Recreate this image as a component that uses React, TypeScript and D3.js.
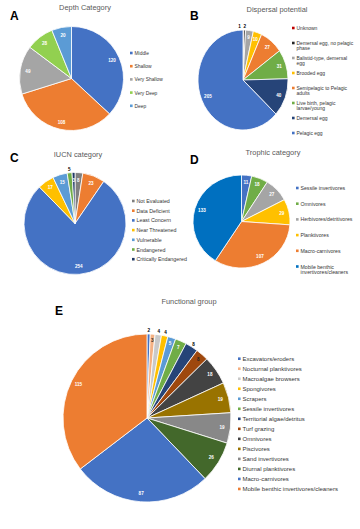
import React from 'react';
import * as d3 from 'd3';

// ---------- DATA ----------
const depthCategories = ['Middle', 'Shallow', 'Very Shallow', 'Very Deep', 'Deep'];
const depthValues = [120, 108, 49, 28, 20];

const dispersalCategories = [
  'Unknown',
  'Demersal egg, no pelagic phase',
  'Balistid-type, demersal egg',
  'Brooded egg',
  'Semipelagic to Pelagic adults',
  'Live birth, pelagic larvae/young',
  'Demersal egg',
  'Pelagic egg',
];
const dispersalValues = [1, 2, 9, 10, 27, 31, 40, 205];

const iucnCategories = [
  'Not Evaluated',
  'Data Deficient',
  'Least Concern',
  'Near Threatened',
  'Vulnerable',
  'Endangered',
  'Critically Endangered',
];
const iucnValues = [8, 23, 254, 17, 15, 5, 3];

const trophicCategories = [
  'Sessile invertivores',
  'Omnivores',
  'Herbivores/detritivores',
  'Planktivores',
  'Macro-carnivores',
  'Mobile benthic invertivores/cleaners',
];
const trophicValues = [11, 18, 27, 29, 107, 133];

const functionalCategories = [
  'Excavators/eroders',
  'Nocturnal planktivores',
  'Macroalgae browsers',
  'Spongivores',
  'Scrapers',
  'Sessile invertivores',
  'Territorial algae/detritus',
  'Turf grazing',
  'Omnivores',
  'Piscivores',
  'Sand invertivores',
  'Diurnal planktivores',
  'Macro-carnivores',
  'Mobile benthic invertivores/cleaners',
];
const functionalValues = [2, 3, 4, 4, 5, 7, 8, 8, 18, 19, 19, 26, 87, 115];

// ---------- STYLE ----------
const FONT = '"Liberation Sans", Arial, sans-serif';

type PanelProps = {
  letter: string;
  letterX: number;
  letterY: number;
  title: string;
  titleX: number;
  titleY: number;
  cats: string[];
  vals: number[];
  colors: string[];
  cx: number;
  cy: number;
  rx: number;
  ry: number;
  labelK: number[];
  labelColors: string[];
  labelDx?: number[];
  labelSize: number;
  legendX: number;
  legendY: number;
  legendStep: number;
  legendSize: number;
  legendWrap: number;
  lineGap?: number;
};

function wrap(text: string, max: number): string[] {
  const words = text.split(' ');
  const lines: string[] = [];
  let cur = '';
  for (const w of words) {
    const t = cur ? cur + ' ' + w : w;
    if (t.length > max && cur) {
      lines.push(cur);
      cur = w;
    } else cur = t;
  }
  if (cur) lines.push(cur);
  return lines;
}

function Panel(p: PanelProps) {
  const pie = d3.pie<number>().sort(null).value((d) => d);
  const arcs = pie(p.vals);
  const arc = d3.arc<d3.PieArcDatum<number>>().innerRadius(0).outerRadius(p.ry);
  const sx = p.rx / p.ry;
  return (
    <g>
      <text x={p.letterX} y={p.letterY} fontFamily={FONT} fontWeight="bold" fontSize={12} fill="#000">
        {p.letter}
      </text>
      <text x={p.titleX} y={p.titleY} fontFamily={FONT} fontSize={7.4} fill="#595959" textAnchor="middle">
        {p.title}
      </text>
      <g transform={`translate(${p.cx},${p.cy}) scale(${sx},1)`}>
        {arcs.map((a, i) => (
          <path
            key={i}
            d={arc(a) || ''}
            fill={p.colors[i]}
            stroke="#fff"
            strokeWidth={0.8}
            vectorEffect="non-scaling-stroke"
          />
        ))}
      </g>
      {arcs.map((a, i) => {
        const mid = (a.startAngle + a.endAngle) / 2;
        const k = p.labelK[i];
        const x = p.cx + p.rx * k * Math.sin(mid) + (p.labelDx ? p.labelDx[i] : 0);
        const y = p.cy - p.ry * k * Math.cos(mid);
        return (
          <text
            key={'l' + i}
            x={x}
            y={y}
            fontFamily={FONT}
            fontSize={p.labelSize}
            fontWeight="bold"
            fill={p.labelColors[i]}
            textAnchor="middle"
            dominantBaseline="central"
          >
            {p.vals[i]}
          </text>
        );
      })}
      {p.cats.map((c, i) => {
        const y = p.legendY + i * p.legendStep;
        const lines = wrap(c, p.legendWrap);
        const gap = p.lineGap ?? p.legendSize * 1.05;
        return (
          <g key={'g' + i}>
            <rect x={p.legendX} y={y - 1.3} width={2.6} height={2.6} fill={p.colors[i]} />
            <text
              x={p.legendX + 4.5}
              y={y}
              fontFamily={FONT}
              fontSize={p.legendSize}
              fill="#363636"
              dominantBaseline="central"
            >
              {lines.map((l, j) => (
                <tspan key={j} x={p.legendX + 4.5} y={y + j * gap}>
                  {l}
                </tspan>
              ))}
            </text>
          </g>
        );
      })}
    </g>
  );
}

export default function App() {
  return (
    <svg
      width={360}
      height={529}
      viewBox="0 0 360 529"
      style={{ position: 'absolute', left: 0, top: 0, background: '#fff' }}
    >
      <rect x={0} y={0} width={360} height={529} fill="#fff" />
      <Panel
        letter="A"
        letterX={10}
        letterY={20}
        title="Depth Category"
        titleX={85}
        titleY={10}
        cats={depthCategories}
        vals={depthValues}
        colors={['#4472C4', '#ED7D31', '#A5A5A5', '#92D050', '#5B9BD5']}
        cx={71.5}
        cy={78.5}
        rx={52}
        ry={52}
        labelK={[0.85, 0.87, 0.85, 0.85, 0.85]}
        labelColors={['#fff', '#fff', '#fff', '#fff', '#fff']}
        labelSize={4.6}
        legendX={130}
        legendY={53}
        legendStep={13.2}
        legendSize={4.9}
        legendWrap={100}
      />
      <Panel
        letter="B"
        letterX={190}
        letterY={20}
        title="Dispersal potential"
        titleX={277}
        titleY={12}
        cats={dispersalCategories}
        vals={dispersalValues}
        colors={['#C00000', '#262626', '#A5A5A5', '#FFC000', '#ED7D31', '#70AD47', '#264478', '#4472C4']}
        cx={243}
        cy={80}
        rx={45}
        ry={50}
        labelK={[1.07, 1.07, 0.85, 0.85, 0.85, 0.85, 0.85, 0.85]}
        labelColors={['#000', '#000', '#fff', '#fff', '#fff', '#fff', '#fff', '#fff']}
        labelDx={[-4, 0, 0, 0, 0, 0, 0, 0]}
        labelSize={4.6}
        legendX={292}
        legendY={28}
        legendStep={15}
        legendSize={5}
        legendWrap={24}
        lineGap={4.9}
      />
      <Panel
        letter="C"
        letterX={10}
        letterY={162}
        title="IUCN category"
        titleX={78}
        titleY={157}
        cats={iucnCategories}
        vals={iucnValues}
        colors={['#7F7F7F', '#ED7D31', '#4472C4', '#FFC000', '#5B9BD5', '#70AD47', '#1F3864']}
        cx={75}
        cy={223.5}
        rx={51}
        ry={51}
        labelK={[0.85, 0.85, 0.85, 0.85, 0.85, 1.07, 0.85]}
        labelColors={['#fff', '#fff', '#fff', '#fff', '#fff', '#000', '#fff']}
        labelSize={4.6}
        legendX={132}
        legendY={201}
        legendStep={9.7}
        legendSize={5.3}
        legendWrap={100}
      />
      <Panel
        letter="D"
        letterX={190}
        letterY={164}
        title="Trophic category"
        titleX={273}
        titleY={155}
        cats={trophicCategories}
        vals={trophicValues}
        colors={['#4472C4', '#70AD47', '#A5A5A5', '#FFC000', '#ED7D31', '#0070C0']}
        cx={241.5}
        cy={221.5}
        rx={48.5}
        ry={46.5}
        labelK={[0.85, 0.85, 0.85, 0.85, 0.85, 0.85]}
        labelColors={['#fff', '#fff', '#fff', '#fff', '#fff', '#fff']}
        labelSize={4.6}
        legendX={296}
        legendY={188}
        legendStep={15.7}
        legendSize={5.2}
        legendWrap={24}
        lineGap={5.4}
      />
      <Panel
        letter="E"
        letterX={55}
        letterY={315}
        title="Functional group"
        titleX={189}
        titleY={304}
        cats={functionalCategories}
        vals={functionalValues}
        colors={[
          '#4472C4',
          '#F4B183',
          '#C9C9C9',
          '#FFC000',
          '#5B9BD5',
          '#70AD47',
          '#264478',
          '#9E480E',
          '#434343',
          '#997300',
          '#888888',
          '#43682B',
          '#4472C4',
          '#ED7D31',
        ]}
        cx={147}
        cy={418}
        rx={84}
        ry={84}
        labelK={[1.04, 0.92, 1.04, 1.04, 0.93, 0.92, 1.04, 0.93, 0.91, 0.9, 0.9, 0.9, 0.9, 0.91]}
        labelColors={[
          '#000',
          '#333',
          '#000',
          '#000',
          '#fff',
          '#fff',
          '#000',
          '#222',
          '#fff',
          '#fff',
          '#fff',
          '#fff',
          '#fff',
          '#fff',
        ]}
        labelSize={4.6}
        legendX={238}
        legendY={358.7}
        legendStep={10.02}
        legendSize={6}
        legendWrap={100}
      />
    </svg>
  );
}
